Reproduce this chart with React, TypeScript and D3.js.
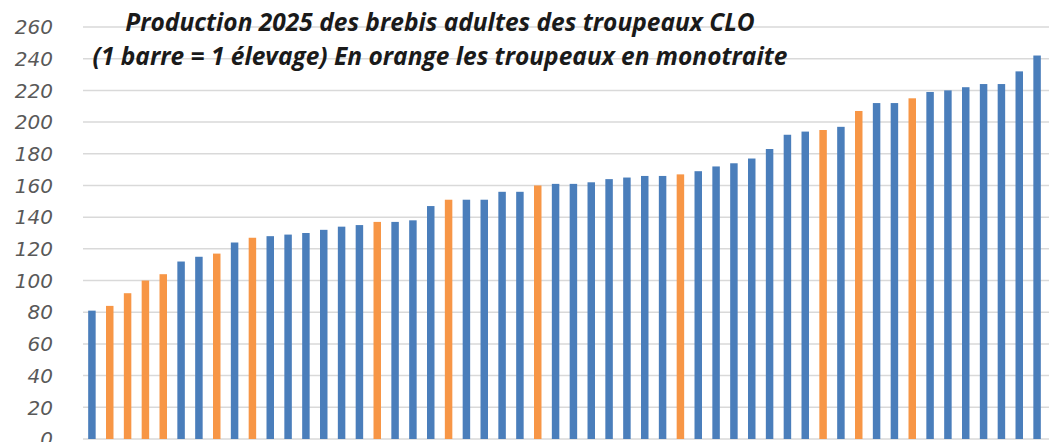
import React from 'react';
import * as d3 from 'd3';

// une barre = un élevage, trié par production croissante
const values: number[] = [
  81, 84, 92, 100, 104, 112, 115, 117, 124, 127,
  128, 129, 130, 132, 134, 135, 137, 137, 138, 147,
  151, 151, 151, 156, 156, 160, 161, 161, 162, 164,
  165, 166, 166, 167, 169, 172, 174, 177, 183, 192,
  194, 195, 197, 207, 212, 212, 215, 219, 220, 222,
  224, 224, 232, 242
];

// true = troupeau en monotraite (orange)
const monotraite: boolean[] = [
  false, true, true, true, true, false, false, true, false, true,
  false, false, false, false, false, false, true, false, false, false,
  true, false, false, false, false, true, false, false, false, false,
  false, false, false, true, false, false, false, false, false, false,
  false, true, false, true, false, false, true, false, false, false,
  false, false, false, false
];

const yTicks: number[] = [0, 20, 40, 60, 80, 100, 120, 140, 160, 180, 200, 220, 240, 260];

const titleLines: string[] = [
  'Production 2025 des brebis adultes des troupeaux CLO',
  '(1 barre = 1 élevage) En orange les troupeaux en monotraite'
];

const W = 1049;
const H = 442;

const App: React.FC = () => {
  const svgRef = React.useRef<SVGSVGElement>(null);

  React.useEffect(() => {
    if (!svgRef.current) return;
    const svg = d3.select(svgRef.current);
    svg.selectAll('*').remove();

    const x = d3.scaleBand<number>()
      .domain(values.map((_, i) => i))
      .range([83, 1046])
      .paddingInner(0.58)
      .paddingOuter(0.29);

    const y = d3.scaleLinear()
      .domain([0, 260])
      .range([439, 27]);

    svg.append('rect')
      .attr('width', W)
      .attr('height', H)
      .attr('fill', '#ffffff');

    // lignes de grille
    svg.append('g')
      .selectAll('line')
      .data(yTicks)
      .enter().append('line')
      .attr('x1', 83)
      .attr('x2', W)
      .attr('y1', d => y(d))
      .attr('y2', d => y(d))
      .attr('stroke', '#d9d9d9')
      .attr('stroke-width', 1.5);

    // étiquettes de l'axe Y
    svg.append('g')
      .selectAll('text')
      .data(yTicks)
      .enter().append('text')
      .attr('x', 53)
      .attr('y', d => y(d))
      .attr('dy', '0.36em')
      .attr('text-anchor', 'end')
      .attr('font-family', 'DejaVu Sans')
      .attr('font-style', 'italic')
      .attr('font-size', 20)
      .attr('fill', '#595959')
      .text(d => d);

    // barres
    svg.append('g')
      .selectAll('rect')
      .data(values)
      .enter().append('rect')
      .attr('x', (_, i) => x(i) || 0)
      .attr('y', d => y(d))
      .attr('width', x.bandwidth())
      .attr('height', d => y(0) - y(d))
      .attr('fill', (_, i) => (monotraite[i] ? '#f79646' : '#4a7ebb'));

    // titre
    svg.append('g')
      .selectAll('text')
      .data(titleLines)
      .enter().append('text')
      .attr('x', 440)
      .attr('y', (_, i) => 31 + i * 34)
      .attr('text-anchor', 'middle')
      .attr('font-family', 'Open Sans')
      .attr('font-style', 'italic')
      .attr('font-weight', 'bold')
      .attr('font-size', 24.5)
      .attr('fill', '#1a1a1a')
      .text(d => d);
  }, []);

  return (
    <div style={{ position: 'absolute', left: 0, top: 0 }}>
      <svg ref={svgRef} width={W} height={H} style={{ display: 'block' }} />
    </div>
  );
};

export default App;
